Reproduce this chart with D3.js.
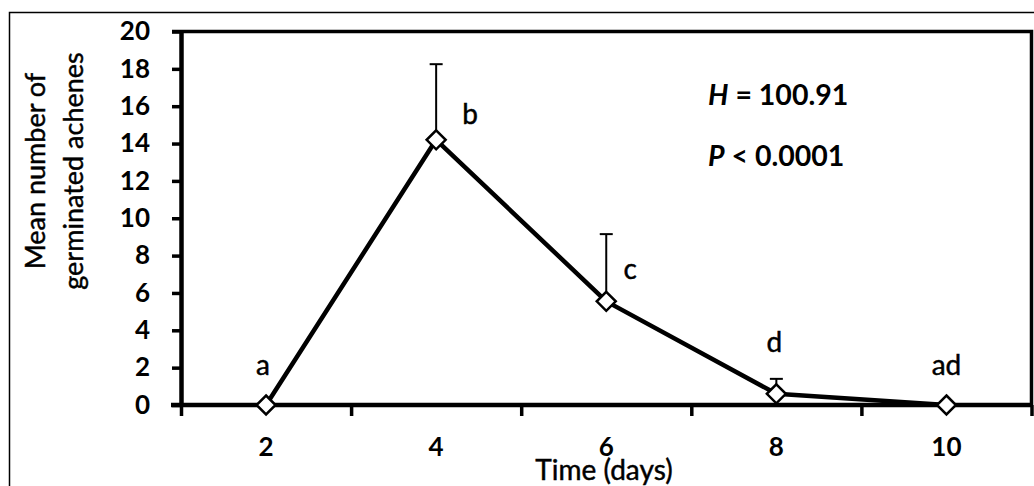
<!DOCTYPE html>
<html>
<head>
<meta charset="utf-8">
<script src="https://cdn.jsdelivr.net/npm/d3@7"></script>
<style>
  html, body { margin: 0; padding: 0; background: #fff; }
  svg { display: block; font-family: Lato, "Open Sans", sans-serif; }
</style>
</head>
<body>
<svg id="chart" width="1034" height="486"></svg>
<script>
// data
const days = ["2", "4", "6", "8", "10"];
const meanGerminated = [0, 14.2, 5.55, 0.6, 0];
const errUpper = [0, 4.05, 3.6, 0.8, 0];
const groupLetters = ["a", "b", "c", "d", "ad"];
const yTicks = [0, 2, 4, 6, 8, 10, 12, 14, 16, 18, 20];

const svg = d3.select("#chart");

// outer frame of the figure (runs off the right and bottom edges)
svg.append("rect")
    .attr("x", 9.5).attr("y", 12.5)
    .attr("width", 1040).attr("height", 500)
    .attr("fill", "none").attr("stroke", "#000").attr("stroke-width", 1.5);

const plotL = 181, plotR = 1031.5, plotT = 31.5, plotB = 405;

const x = d3.scaleBand().domain(days).range([plotL, plotR]);
const y = d3.scaleLinear().domain([0, 20]).range([plotB, plotT]);

// plot box: top and right sides
svg.append("path")
    .attr("d", `M${plotL - 9},${plotT}H${plotR}V${plotB}`)
    .attr("fill", "none").attr("stroke", "#000").attr("stroke-width", 3.5);

// y axis
const yAxis = svg.append("g")
    .attr("transform", `translate(${plotL},0)`)
    .call(d3.axisLeft(y).tickValues(yTicks).tickSize(9).tickPadding(22).tickSizeOuter(0));
yAxis.select(".domain").attr("stroke-width", 4.5);
yAxis.selectAll(".tick line").attr("stroke-width", 3.5);
yAxis.selectAll(".tick text")
    .attr("font-family", "Lato").attr("font-size", 26).attr("font-weight", "bold").attr("fill", "#000");

// x axis: line at y = 0, boundary ticks pointing down, labels centred on each day
const edges = d3.scaleLinear().domain([0, days.length]).range([plotL, plotR]);
const xEdge = svg.append("g")
    .attr("transform", `translate(0,${plotB})`)
    .call(d3.axisBottom(edges).ticks(days.length).tickSize(11).tickFormat("").tickSizeOuter(0));
xEdge.select(".domain").remove();
xEdge.selectAll(".tick line").attr("stroke-width", 3.5);
svg.append("line")
    .attr("x1", plotL - 10).attr("x2", plotR + 1)
    .attr("y1", plotB).attr("y2", plotB)
    .attr("stroke", "#000").attr("stroke-width", 4.5);

const xAxis = svg.append("g")
    .attr("transform", `translate(0,${plotB})`)
    .call(d3.axisBottom(x).tickSize(0).tickPadding(33));
xAxis.select(".domain").remove();
xAxis.selectAll(".tick text")
    .attr("font-family", "Lato").attr("font-size", 26).attr("font-weight", "bold").attr("fill", "#000");

// regular-weight text, slightly thickened to look like the original
const soft = sel => sel.attr("stroke", "#000").attr("stroke-width", 0.45);

// axis titles
soft(svg.append("text")
    .attr("x", 604).attr("y", 480)
    .attr("text-anchor", "middle")
    .attr("font-size", 28)
    .text("Time (days)"));

const yTitle = soft(svg.append("text")
    .attr("transform", "translate(45,171) rotate(-90)")
    .attr("text-anchor", "middle")
    .attr("font-size", 27));
yTitle.append("tspan").attr("x", 0).attr("y", 0).text("Mean number of");
yTitle.append("tspan").attr("x", 0).attr("y", 38).text("germinated achenes");

const pts = days.map((d, i) => ({ day: d, m: meanGerminated[i], e: errUpper[i], letter: groupLetters[i] }));
const cx = d => x(d.day) + x.bandwidth() / 2;

// upper error bars
const bars = svg.append("g").attr("stroke", "#000").attr("stroke-width", 2);
bars.selectAll("line.v")
    .data(pts.filter(d => d.e > 0))
    .join("line")
    .attr("class", "v")
    .attr("x1", cx).attr("x2", cx)
    .attr("y1", d => y(d.m)).attr("y2", d => y(d.m + d.e));
bars.selectAll("line.cap")
    .data(pts.filter(d => d.e > 0))
    .join("line")
    .attr("class", "cap")
    .attr("x1", d => cx(d) - 6.5).attr("x2", d => cx(d) + 6.5)
    .attr("y1", d => y(d.m + d.e)).attr("y2", d => y(d.m + d.e));

// mean line
svg.append("path")
    .datum(pts)
    .attr("d", d3.line().x(cx).y(d => y(d.m)))
    .attr("fill", "none").attr("stroke", "#000").attr("stroke-width", 4.5)
    .attr("stroke-linejoin", "round");

// diamond markers
svg.append("g").selectAll("path")
    .data(pts)
    .join("path")
    .attr("transform", d => `translate(${cx(d)},${y(d.m)})`)
    .attr("d", d3.symbol(d3.symbolDiamond2, 230))
    .attr("fill", "#fff").attr("stroke", "#000").attr("stroke-width", 2.5);

// significance letters (offsets from each point)
const letterOffset = [[-3, -30], [34, -16], [24, -22], [-2, -42], [0, -30]];
soft(svg.append("g").selectAll("text")
    .data(pts)
    .join("text")
    .attr("x", (d, i) => cx(d) + letterOffset[i][0])
    .attr("y", (d, i) => y(d.m) + letterOffset[i][1])
    .attr("text-anchor", "middle")
    .attr("font-size", 28)
    .text(d => d.letter));

// test statistics
const stats = svg.append("g").attr("font-size", 28.5).attr("font-weight", "bold");
const hText = stats.append("text").attr("x", 708).attr("y", 105);
hText.append("tspan").attr("font-style", "italic").text("H");
hText.append("tspan").text(" = 100.91");
const pText = stats.append("text").attr("x", 708).attr("y", 166);
pText.append("tspan").attr("font-style", "italic").text("P");
pText.append("tspan").text(" < 0.0001");
</script>
</body>
</html>
